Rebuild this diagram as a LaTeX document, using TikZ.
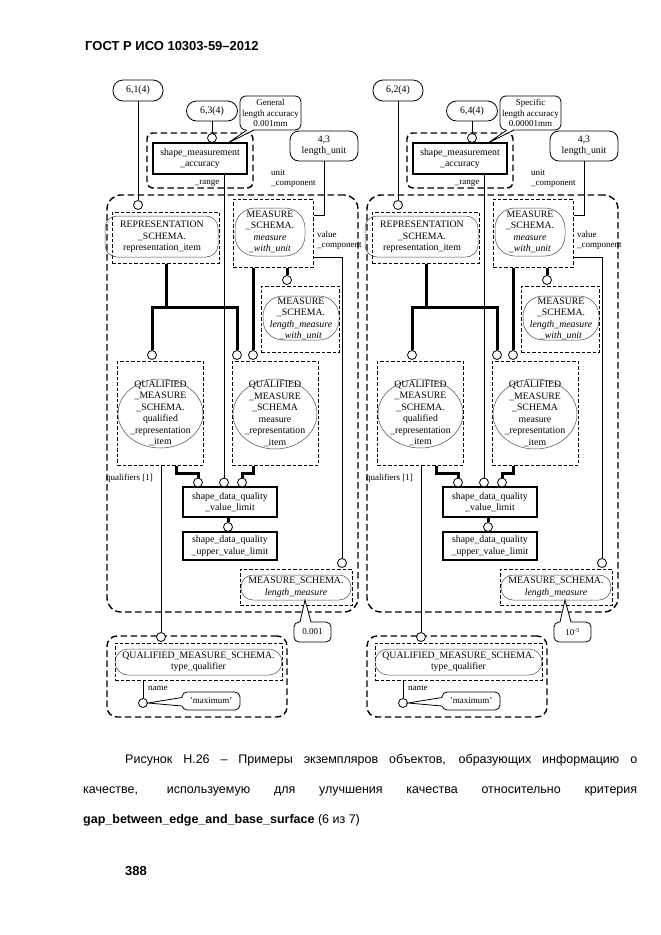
\documentclass[tikz,border=0pt]{standalone}
\usepackage{fontspec}
\setmainfont{Liberation Serif}
\newfontfamily\capfont{Liberation Sans}
\usetikzlibrary{shapes,calc,positioning}

\newcommand\dgfont{\fontsize{9.8}{11.5}\selectfont}
\newcommand\lblfont{\fontsize{9}{10.5}\selectfont}

\tikzset{
  grp/.style={draw,line width=1.4pt,dash pattern=on 6.5pt off 3.5pt,rounded corners=14pt},
  dbox/.style={draw,line width=1pt,dash pattern=on 3.5pt off 2pt},
  ent/.style={draw,line width=1.4pt,align=center},
  refbox/.style={draw,line width=.8pt,rounded corners=9pt,align=center},
  outl/.style={draw,line width=.5pt,black!70},
  lbl/.style={align=center,inner sep=0pt},
  conn/.style={circle,draw,fill=white,line width=.8pt,minimum size=9pt,inner sep=0pt},
  ln/.style={line width=.8pt},
  tk/.style={line width=3pt},
}

% one instance panel: prefix, shift, reference, range reference, note, value
\newcommand{\qmpanel}[6]{%
\begin{scope}[xshift=#2]
% references and range
\node[refbox,rounded corners=10pt,minimum width=50pt,minimum height=21pt] (#1ra) at (138,90.5) {#3};
\node[refbox,rounded corners=10pt,minimum width=51pt,minimum height=20pt] (#1rb) at (212,111) {#4};
\node[refbox,rounded corners=6pt,minimum width=61pt,minimum height=34pt,inner sep=1pt,font=\lblfont] (#1note) at (270.5,113) {#5};
\node[grp,rounded corners=6pt,minimum width=106pt,minimum height=55pt] (#1rg) at (200,160.5) {};
\node[ent,minimum width=94pt,minimum height=31pt] (#1sma) at (200,158.5) {shape\_measurement\\\_accuracy};
\node[lbl,font=\lblfont] (#1rgl) at (207,183) {\_range};
\node[refbox,minimum width=68pt,minimum height=30pt] (#1lu) at (324,146) {4,3\\length\_unit};
\node[lbl,font=\lblfont,align=left,anchor=north west] (#1ucl) at (271,169) {unit\\\_component};
% big group
\node[grp,minimum width=251pt,minimum height=417pt] (#1big) at (232.5,403.5) {};
\node[dbox,minimum width=107pt,minimum height=51pt] (#1rep) at (165.5,237.5) {};
\draw[outl,rounded corners=12pt] (105,216) rectangle (218,257);
\node[lbl] (#1rept) at (162,237) {REPRESENTATION\\\_SCHEMA.\\representation\_item};
\node[dbox,minimum width=80pt,minimum height=68pt] (#1mwu) at (273,233) {};
\draw[outl,rounded corners=20pt] (235,208) rectangle (305,256);
\node[lbl] (#1mwut) at (270,232) {MEASURE\\\_SCHEMA.\\\textit{measure}\\\textit{\_with\_unit}};
\node[lbl,font=\lblfont,align=left,anchor=north west] (#1vcl) at (317,231) {value\\\_component};
\node[dbox,minimum width=78pt,minimum height=66pt] (#1lmw) at (300,319) {};
\draw[outl,rounded corners=20pt] (263,296) rectangle (339,340);
\node[lbl] (#1lmwt) at (301,319) {MEASURE\\\_SCHEMA.\\\textit{length\_measure}\\\textit{\_with\_unit}};
\node[dbox,minimum width=86pt,minimum height=104pt] (#1ql) at (160,413) {};
\draw[outl] (160.5,413.5) ellipse [x radius=42.5pt,y radius=34.5pt];
\node[lbl] (#1qlt) at (160.5,413.5) {QUALIFIED\\\_MEASURE\\\_SCHEMA.\\qualified\\\_representation\\\_item};
\node[dbox,minimum width=86pt,minimum height=104pt] (#1qr) at (275,413) {};
\draw[outl] (275,414) ellipse [x radius=42pt,y radius=35pt];
\node[lbl] (#1qrt) at (275,414) {QUALIFIED\\\_MEASURE\\\_SCHEMA\\measure\\\_representation\\\_item};
\node[lbl,font=\lblfont,anchor=west] (#1qll) at (106,478) {qualifiers [1]};
\node[ent,minimum width=94pt,minimum height=30pt] (#1vl) at (230,502) {shape\_data\_quality\\\_value\_limit};
\node[ent,minimum width=94pt,minimum height=28pt] (#1uvl) at (230,546) {shape\_data\_quality\\\_upper\_value\_limit};
\node[dbox,minimum width=112pt,minimum height=36pt] (#1lm) at (296,587) {};
\draw[outl,rounded corners=12pt] (241,575) rectangle (351,600);
\node[lbl] (#1lmt) at (296,587.5) {MEASURE\_SCHEMA.\\\textit{length\_measure}};
\node[refbox,rounded corners=5pt,minimum width=37pt,minimum height=20pt,font=\lblfont] (#1val) at (312.5,632) {#6};
% type qualifier group
\node[grp,rounded corners=10pt,minimum width=180pt,minimum height=81pt] (#1tq) at (197,676.5) {};
\node[dbox,minimum width=167pt,minimum height=37pt] (#1tqi) at (198.5,661.5) {};
\draw[outl,rounded corners=13pt] (115,649) rectangle (282,675);
\node[lbl] (#1tqt) at (198.5,662) {QUALIFIED\_MEASURE\_SCHEMA.\\type\_qualifier};
\node[lbl,font=\lblfont,anchor=west] (#1nml) at (148,688) {name};
\node[refbox,rounded corners=5pt,minimum width=58pt,minimum height=18pt,font=\lblfont] (#1max) at (211,701) {'maximum'};
% attribute circles
\node[conn] (#1c1) at (138,205) {};
\node[conn] (#1c2) at (212,138) {};
\node[conn] (#1c3) at (287,280) {};
\node[conn] (#1c4) at (152,355) {};
\node[conn] (#1c5) at (237,355) {};
\node[conn] (#1c6) at (253,355) {};
\node[conn] (#1c7) at (198,482.5) {};
\node[conn] (#1c8) at (224,482.5) {};
\node[conn] (#1c9) at (342,563) {};
\node[conn] (#1c10) at (242,482.5) {};
\node[conn] (#1c11) at (161,637) {};
\node[conn] (#1c12) at (228,527) {};
\node[conn] (#1c13) at (143,703) {};
% connectors
\draw[ln] (#1ra) -- (#1c1);
\draw[ln] (#1rb) -- (#1c2);
\draw[ln] (#1c8 |- #1sma.south) -- (#1c8);
\coordinate (#1b1) at (324,215);
\draw[ln] (#1lu) -- (#1b1) -- (#1b1 -| #1mwu.east);
\coordinate (#1b2) at (342,257);
\draw[ln] (#1b2 -| #1mwu.east) -- (#1b2) -- (#1c9);
\coordinate (#1j1) at (166,307);
\draw[tk] (#1j1 |- #1rep.south) -- (#1j1);
\draw[tk] (#1c4) -- (#1c4 |- #1j1) -- (#1c5 |- #1j1) -- (#1c5);
\draw[tk] (#1c6 |- #1mwu.south) -- (#1c6);
\draw[tk] (#1c3 |- #1mwu.south) -- (#1c3);
\draw[ln] (#1c11 |- #1ql.south) -- (#1c11);
\coordinate (#1j2) at (176,473);
\draw[tk] (#1j2 |- #1ql.south) -- (#1j2) -| (#1c7);
\coordinate (#1j3) at (253,473);
\draw[tk] (#1j3 |- #1qr.south) -- (#1j3) -| (#1c10);
\draw[tk] (#1c12 |- #1vl.south) -- (#1c12);
\draw[ln] (#1c13 |- #1tqi.south) -- (#1c13);
% callout pointers
\coordinate (#1tp1) at (228,143);
\fill[white] (247,129) -- (#1tp1) -- (254,129) -- cycle;
\draw[ln] (247,130) -- (#1tp1) -- (254,130);
\coordinate (#1tp2) at (305,600);
\fill[white] (300,623) -- (#1tp2) -- (311,623) -- cycle;
\draw[ln] (300,622) -- (#1tp2) -- (311,622);
\fill[white] (183,697.5) -- (#1c13.east) -- (183,706) -- cycle;
\draw[ln] (182,697.5) -- (#1c13.east) -- (182,706);
\end{scope}}

\begin{document}
\begin{tikzpicture}[x=1pt,y=-1pt,font=\dgfont]
\fill[white] (0,0) rectangle (661,935);
\useasboundingbox (0,0) rectangle (661,935);
\node[anchor=west,inner sep=0pt,font=\capfont\bfseries\fontsize{13}{15}\selectfont] (hdr) at (85,46) {ГОСТ Р ИСО 10303-59–2012};

\qmpanel{l}{0pt}{6,1(4)}{6,3(4)}{General\\length accuracy\\0.001mm}{0.001}
\qmpanel{r}{260pt}{6,2(4)}{6,4(4)}{Specific\\length accuracy\\0.00001mm}{10\textsuperscript{-5}}

\node[anchor=north west,text width=554pt,align=justify,inner sep=0pt,font=\capfont\fontsize{12.5}{30}\selectfont] (cap) at (83,754)
  {\hspace*{42pt}Рисунок Н.26 – Примеры экземпляров объектов, образующих информацию о\linebreak
   качестве, используемую для улучшения качества относительно критерия\linebreak
   \textbf{gap\_between\_edge\_and\_base\_surface} (6 из 7)};
\node[anchor=west,inner sep=0pt,font=\capfont\bfseries\fontsize{13}{15}\selectfont] (pg) at (125,871) {388};
\end{tikzpicture}
\end{document}
